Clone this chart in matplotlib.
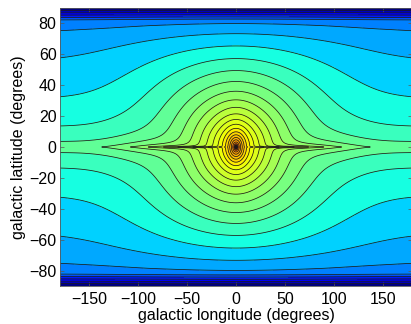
import numpy as np
import matplotlib
matplotlib.use("Agg")
import matplotlib.pyplot as plt

# contour levels of log10(star density per square degree), evenly spaced
level_start = -2.68
level_step = 0.32
n_levels = 31

# jet position of each filled band (band 0 lies below the first level),
# read off the reference colours
band_shade = [0.00, 0.05, 0.10, 0.15, 0.20, 0.25, 0.29, 0.33, 0.375, 0.42,
              0.465, 0.495, 0.52, 0.55, 0.575, 0.60, 0.62, 0.64, 0.66,
              0.68, 0.70, 0.72, 0.74, 0.76, 0.79, 0.82, 0.85, 0.88,
              0.91, 0.94, 0.96, 0.98]

# galaxy model: thin disk, wide halo, bulge, nucleus
h_z = 0.25            # disk scale height (kpc)
h_r = 2.6             # disk scale length (kpc)
plane_c = 0.716       # growth of the in-plane column towards the centre
plane_p = 1.55
halo_amp = 1250.0
halo_core = 10.0      # degrees
halo_stretch = 0.65   # longitude squeeze (<1 = wider in longitude)
bulge_amp = 44500.0
bulge_core = 5.0
bulge_stretch = 1.0
nucleus_amp = 1.0e7
nucleus_core = 0.45
pole_floor = 0.00265  # cos(b) used on the pole rows

x_ticks = [-150, -100, -50, 0, 50, 100, 150]
y_ticks = [-80, -60, -40, -20, 0, 20, 40, 60, 80]

plt.rcParams["font.family"] = ["Liberation Sans", "DejaVu Sans"]
plt.rcParams["font.size"] = 11.5

# grid: 1 degree in longitude, equal steps in sin(latitude)
lon = np.arange(-180, 181, 1.0)
sinb = np.linspace(-1, 1, 201)
lat = np.degrees(np.arcsin(sinb))
L, S = np.meshgrid(np.radians(lon), sinb)
cosb = np.maximum(np.sqrt(1 - S ** 2), pole_floor)


def angle_from_centre(stretch):
    c = np.clip(np.cos(np.clip(stretch * L, -np.pi, np.pi)) * cosb, -1, 1)
    return np.degrees(np.arccos(c)), c


plane = h_r * 10 ** (plane_c * (1 + np.cos(L)) ** plane_p)
disk = 1.0 / (np.abs(S) / h_z + cosb / plane)

t_h, c_h = angle_from_centre(halo_stretch)
halo = halo_amp * (1 + (t_h / halo_core) ** 2) ** -2 * (1 + c_h) / 2
t_b, _ = angle_from_centre(bulge_stretch)
bulge = bulge_amp * (1 + (t_b / bulge_core) ** 2) ** -2.5
nucleus = nucleus_amp * (1 + (t_b / nucleus_core) ** 2) ** -2
field = np.log10(cosb * (disk + halo + bulge + nucleus))

levels = level_start + level_step * np.arange(n_levels)
zmin, zmax = field.min(), field.max()
levels = levels[(levels > zmin) & (levels < zmax)]
bounds = np.concatenate([[zmin - 1e-6], levels, [zmax + 1e-6]])
jet = plt.get_cmap("jet")
band_colors = [jet(v) for v in band_shade[:len(bounds) - 1]]

fig = plt.figure(figsize=(4.11, 3.24), dpi=100)
ax = fig.add_axes([60 / 411, 38 / 324, 352 / 411, 278 / 324])
ax.contourf(lon, lat, field, levels=bounds, colors=band_colors)
ax.contour(lon, lat, field, levels=levels, colors="0.1", linewidths=0.55,
           negative_linestyles="solid")

ax.set_xlim(-180, 180)
ax.set_ylim(-90, 90)
ax.set_xticks(x_ticks)
ax.set_yticks(y_ticks)
ax.tick_params(direction="in", length=3, width=0.5, color="0.35",
               top=True, right=True, pad=2.5)
ax.tick_params(axis="x", pad=4)
for s in ax.spines.values():
    s.set_color("0.35")
    s.set_linewidth(0.6)
ax.set_xlabel("galactic longitude (degrees)", labelpad=1)
ax.set_ylabel("galactic latitude (degrees)", labelpad=2)

fig.savefig("out.png", dpi=100)
